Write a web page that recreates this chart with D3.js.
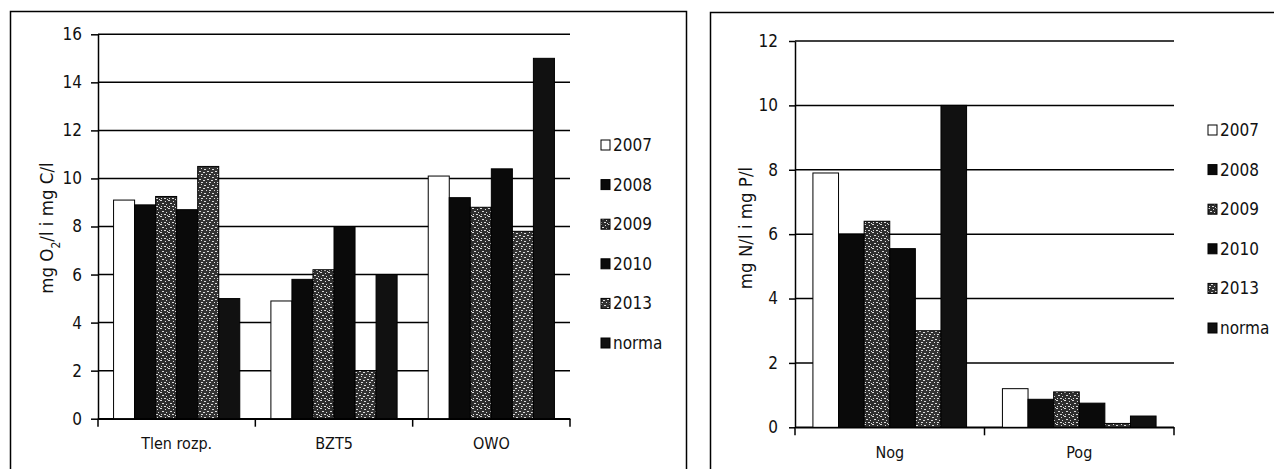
<!DOCTYPE html>
<html>
<head>
<meta charset="utf-8">
<script src="https://cdn.jsdelivr.net/npm/d3@7"></script>
<style>
  html, body { margin: 0; padding: 0; background: #fff; }
  svg { display: block; }
  text { font-family: "DejaVu Sans Condensed", "Liberation Sans", sans-serif; fill: #111; }
</style>
</head>
<body>
<svg id="chart" width="1274" height="469"></svg>
<script>
// ---- data ----
const series = ["2007", "2008", "2009", "2010", "2013", "norma"];
const leftCategories = ["Tlen rozp.", "BZT5", "OWO"];
const leftValues = {
  "2007":  [9.1, 4.9, 10.1],
  "2008":  [8.9, 5.8, 9.2],
  "2009":  [9.25, 6.2, 8.8],
  "2010":  [8.7, 8.0, 10.4],
  "2013":  [10.5, 2.0, 7.8],
  "norma": [5.0, 6.0, 15.0]
};
const leftTicks = [0, 2, 4, 6, 8, 10, 12, 14, 16];
const rightCategories = ["Nog", "Pog"];
const rightValues = {
  "2007":  [7.9, 1.2],
  "2008":  [6.0, 0.87],
  "2009":  [6.4, 1.1],
  "2010":  [5.55, 0.75],
  "2013":  [3.0, 0.12],
  "norma": [10.0, 0.35]
};
const rightTicks = [0, 2, 4, 6, 8, 10, 12];

// ---- styles ----
const svg = d3.select("#chart");
const defs = svg.append("defs");
function speckle(id, base, dots) {
  const p = defs.append("pattern").attr("id", id).attr("patternUnits", "userSpaceOnUse")
    .attr("width", 8).attr("height", 8);
  p.append("rect").attr("width", 8).attr("height", 8).attr("fill", base);
  dots.forEach(([x, y, w]) =>
    p.append("rect").attr("x", x).attr("y", y).attr("width", w).attr("height", 1).attr("fill", "#ddd"));
}
speckle("pat2009", "#2e2e2e", [[0,0,2],[5,1,1],[2,3,2],[6,4,1],[1,6,1],[4,6,2],[7,7,1]]);
speckle("pat2013", "#333", [[1,0,1],[4,1,2],[0,3,1],[3,4,2],[7,3,1],[1,6,2],[6,6,1]]);
const fills = { "2007": "#fff", "2008": "#0a0a0a", "2009": "url(#pat2009)", "2010": "#0a0a0a", "2013": "url(#pat2013)", "norma": "#111" };

// outer frames
svg.append("path").attr("d", "M10.5,480 V11.5 H686.5 V480").attr("fill", "none").attr("stroke", "#000").attr("stroke-width", 1.5);
svg.append("path").attr("d", "M710.5,480 V12.5 H1280").attr("fill", "none").attr("stroke", "#000").attr("stroke-width", 1.5);

function drawChart(cfg) {
  const g = svg.append("g");
  const x0 = d3.scaleBand().domain(cfg.categories).range([cfg.x0, cfg.x1]);
  const x1 = d3.scaleBand().domain(series).range([0, x0.bandwidth()]).paddingOuter(cfg.pad);
  const y = d3.scaleLinear().domain([0, cfg.max]).range([cfg.yBottom, cfg.yTop]);

  // gridlines
  g.selectAll("line.grid").data(cfg.ticks).join("line")
    .attr("x1", cfg.x0).attr("x2", cfg.x1)
    .attr("y1", d => y(d)).attr("y2", d => y(d))
    .attr("stroke", "#000").attr("stroke-width", 1.5);

  // bars
  cfg.categories.forEach((c, i) => {
    g.selectAll(null).data(series).join("rect")
      .attr("x", s => x0(c) + x1(s))
      .attr("width", x1.bandwidth())
      .attr("y", s => y(cfg.values[s][i]))
      .attr("height", s => y(0) - y(cfg.values[s][i]))
      .attr("fill", s => fills[s])
      .attr("stroke", "#000").attr("stroke-width", 1);
  });

  // y axis
  const ya = g.append("g").attr("transform", `translate(${cfg.x0},0)`)
    .call(d3.axisLeft(y).tickValues(cfg.ticks).tickSizeInner(cfg.tickLen).tickSizeOuter(0).tickPadding(cfg.tickPad));
  ya.attr("font-family", null);
  ya.select(".domain").attr("stroke", "#000").attr("stroke-width", 1.5);
  ya.selectAll(".tick line").attr("stroke", "#000").attr("stroke-width", 1.5);
  ya.selectAll(".tick text").attr("font-size", 17).attr("fill", "#111");

  // x axis
  const xa = g.append("g").attr("transform", `translate(0,${cfg.yBottom})`)
    .call(d3.axisBottom(x0).tickSize(0).tickPadding(cfg.catPad));
  xa.attr("font-family", null);
  xa.select(".domain").attr("stroke", "#000").attr("stroke-width", 1.5);
  xa.selectAll(".tick text").attr("font-size", 16).attr("fill", "#111");
  const bounds = cfg.categories.map(c => x0(c)).concat([cfg.x1]);
  g.selectAll(null).data(bounds).join("line")
    .attr("x1", d => d).attr("x2", d => d)
    .attr("y1", cfg.yBottom).attr("y2", cfg.yBottom + 8)
    .attr("stroke", "#000").attr("stroke-width", 1.5);

  // y title
  const t = g.append("text")
    .attr("transform", `translate(${cfg.titleX},${cfg.titleY}) rotate(-90)`)
    .attr("text-anchor", "middle").attr("font-size", 18.5);
  cfg.title.forEach(part => {
    const ts = t.append("tspan").text(part.t);
    if (part.sub) ts.attr("baseline-shift", "sub").attr("font-size", 12);
  });

  // legend
  const lg = g.append("g");
  series.forEach((s, i) => {
    const cy = cfg.legY + i * cfg.legStep;
    lg.append("rect").attr("x", cfg.legX).attr("y", cy - 5).attr("width", 9).attr("height", 10)
      .attr("fill", fills[s]).attr("stroke", "#000").attr("stroke-width", 1);
    lg.append("text").attr("x", cfg.legX + 12).attr("y", cy).attr("dy", "0.35em")
      .attr("font-size", 17).text(s);
  });
}

drawChart({
  categories: leftCategories, values: leftValues, ticks: leftTicks, max: 16,
  x0: 98, x1: 570, yBottom: 418.7, yTop: 34.3, pad: 0.74,
  tickLen: 7, tickPad: 9, catPad: 19,
  title: [{t: "mg O"}, {t: "2", sub: true}, {t: "/l i mg C/l"}], titleX: 53, titleY: 228,
  legX: 601, legY: 145, legStep: 39.6
});

drawChart({
  categories: rightCategories, values: rightValues, ticks: rightTicks, max: 12,
  x0: 795, x1: 1174, yBottom: 427.3, yTop: 41, pad: 0.7,
  tickLen: 6, tickPad: 11, catPad: 19,
  title: [{t: "mg N/l i mg P/l"}], titleX: 752, titleY: 228,
  legX: 1208, legY: 130, legStep: 39.6
});
</script>
</body>
</html>
